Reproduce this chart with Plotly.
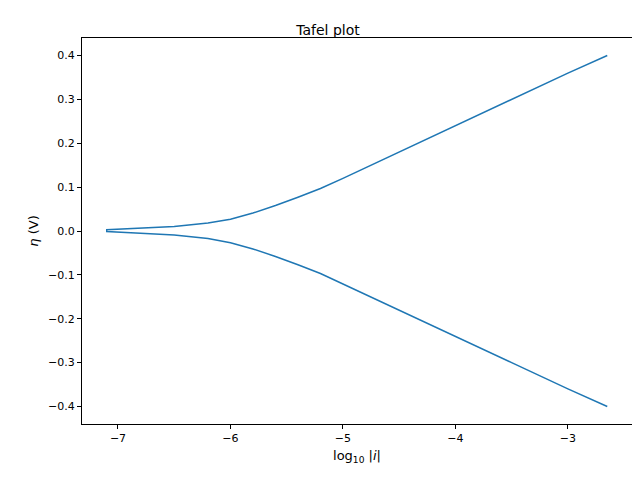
import plotly.graph_objects as go

# values: log10|i| and overpotential eta (V)
log_i_lower = [-2.65, -3.0, -3.5, -4.0, -4.5, -5.0, -5.2, -5.4, -5.6, -5.8, -6.0, -6.2, -6.5, -6.8, -7.1]
eta_lower = [-0.40, -0.36, -0.30, -0.24, -0.18, -0.120, -0.097, -0.077, -0.058, -0.041, -0.027, -0.017, -0.009, -0.005, -0.001]
log_i_upper = [-7.1, -6.8, -6.5, -6.2, -6.0, -5.8, -5.6, -5.4, -5.2, -5.0, -4.5, -4.0, -3.5, -3.0, -2.65]
eta_upper = [0.003, 0.006, 0.010, 0.018, 0.027, 0.041, 0.058, 0.077, 0.097, 0.120, 0.18, 0.24, 0.30, 0.36, 0.40]

x = log_i_lower + log_i_upper
y = eta_lower + eta_upper

fig = go.Figure()
fig.add_trace(go.Scatter(x=x, y=y, mode="lines", line=dict(color="#1f77b4", width=1.5),
                         showlegend=False))

axis = dict(showgrid=False, zeroline=False, showline=True, mirror=True, linecolor="black",
            linewidth=1, ticks="outside", ticklen=4, tickcolor="black")
fig.update_layout(
    width=640, height=480,
    paper_bgcolor="white", plot_bgcolor="white",
    font=dict(family="DejaVu Sans", size=11, color="black"),
    title=dict(text="Tafel plot", x=0.5, xanchor="center", y=0.965, font=dict(size=14)),
    margin=dict(l=74, r=16, t=30, b=64),
    xaxis=dict(axis, range=[-7.32, -2.43], tickvals=[-7, -6, -5, -4, -3],
               ticktext=["−7", "−6", "−5", "−4", "−3"],
               title=dict(text="log<sub>10</sub> |<i>i</i>|", standoff=6)),
    yaxis=dict(axis, range=[-0.44, 0.44], tickvals=[-0.4, -0.3, -0.2, -0.1, 0, 0.1, 0.2, 0.3, 0.4],
               ticktext=["−0.4", "−0.3", "−0.2", "−0.1", "0.0", "0.1", "0.2", "0.3", "0.4"],
               title=dict(text="<i>η</i> (V)", standoff=6)),
)
fig.write_html("out.html")
